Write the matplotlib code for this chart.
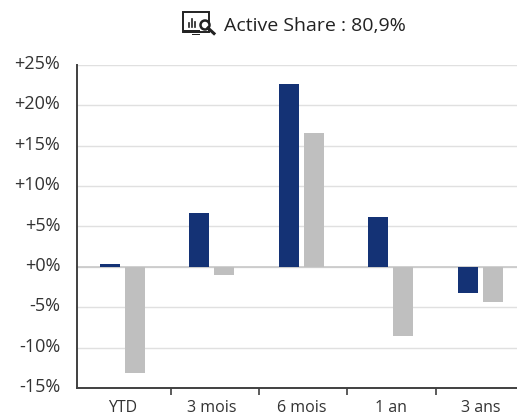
#!/usr/bin/env python3
# -*- coding: utf-8 -*-
import matplotlib
matplotlib.use('Agg')
import matplotlib.pyplot as plt
from matplotlib.lines import Line2D
from matplotlib.patches import Circle, Rectangle
from matplotlib.transforms import ScaledTranslation

categories = ['YTD', '3 mois', '6 mois', '1 an', '3 ans']
fund_values = [0.3, 6.6, 22.6, 6.2, -3.3]
index_values = [-13.1, -1.0, 16.5, -8.6, -4.4]
y_ticks = [-15, -10, -5, 0, 5, 10, 15, 20, 25]
y_labels = ['-15%', '-10%', '-5%', '+0%', '+5%', '+10%', '+15%', '+20%', '+25%']
separators = [0.54, 1.53, 2.51, 3.5]
title = 'Active Share : 80,9%'

W, H = 517, 417
plt.rcParams['font.family'] = ['Open Sans', 'DejaVu Sans']

fig = plt.figure(figsize=(W / 100, H / 100), dpi=100)
ax = fig.add_axes([77 / W, 1 - 388 / H, (W - 77) / W, (388 - 64.7) / H])

x = list(range(len(categories)))
bar_w = 0.225
offset = 0.14
ax.bar([i - offset for i in x], fund_values, bar_w, color='#143275', zorder=3)
ax.bar([i + offset for i in x], index_values, bar_w, color='#bfbfbf', zorder=3)

ax.set_xlim(-0.505, 4.41)
ax.set_ylim(-15, 25)
ax.set_yticks(y_ticks)
ax.set_yticklabels(y_labels, fontsize=13, color='#333333')
ax.tick_params(axis='y', length=0, pad=12)
# les libelles Y sont un peu au-dessus des lignes
shift = ScaledTranslation(0, 2 / 72, fig.dpi_scale_trans)
for lab in ax.get_yticklabels():
    lab.set_transform(lab.get_transform() + shift)
ax.set_xticks(x)
ax.set_xticklabels(categories, fontsize=11.5, color='#333333')
ax.tick_params(axis='x', length=0, pad=9)
ax.set_xticks(separators, minor=True)
ax.tick_params(axis='x', which='minor', length=5, width=1.2, color='#404040')

ax.grid(axis='y', color='#e0e0e0', linewidth=1.0, zorder=0)
ax.axhline(0, color='#c8c8c8', linewidth=1.2, zorder=2)
for side in ['top', 'right']:
    ax.spines[side].set_visible(False)
for side in ['left', 'bottom']:
    ax.spines[side].set_color('#404040')
    ax.spines[side].set_linewidth(1.4)

fig.text(224 / W, 1 - 26 / H, title, fontsize=14, color='#222222', ha='left', va='center')

# icone ecran + loupe, en pixels du haut a gauche
icon = fig.add_axes([0, 0, 1, 1], facecolor='none')
icon.set_xlim(0, W)
icon.set_ylim(H, 0)
icon.axis('off')
icon.add_patch(Rectangle((183, 12), 26, 20, fill=False, ec='#222222', lw=1.4))
icon.add_patch(Rectangle((183, 29.5), 17, 3, fc='#222222', ec='none'))
icon.add_patch(Rectangle((192, 33.5), 8, 1.5, fc='#222222', ec='none'))
for bx, top in [(189, 23), (192, 19), (195, 22)]:
    icon.add_line(Line2D([bx, bx], [top, 27], color='#222222', lw=1.2))
icon.add_patch(Circle((205, 25), 4.5, fc='white', ec='#222222', lw=1.8))
icon.add_line(Line2D([208, 214], [28, 33.5], color='#222222', lw=2.2))

fig.savefig('out.png', dpi=100)
plt.close(fig)
